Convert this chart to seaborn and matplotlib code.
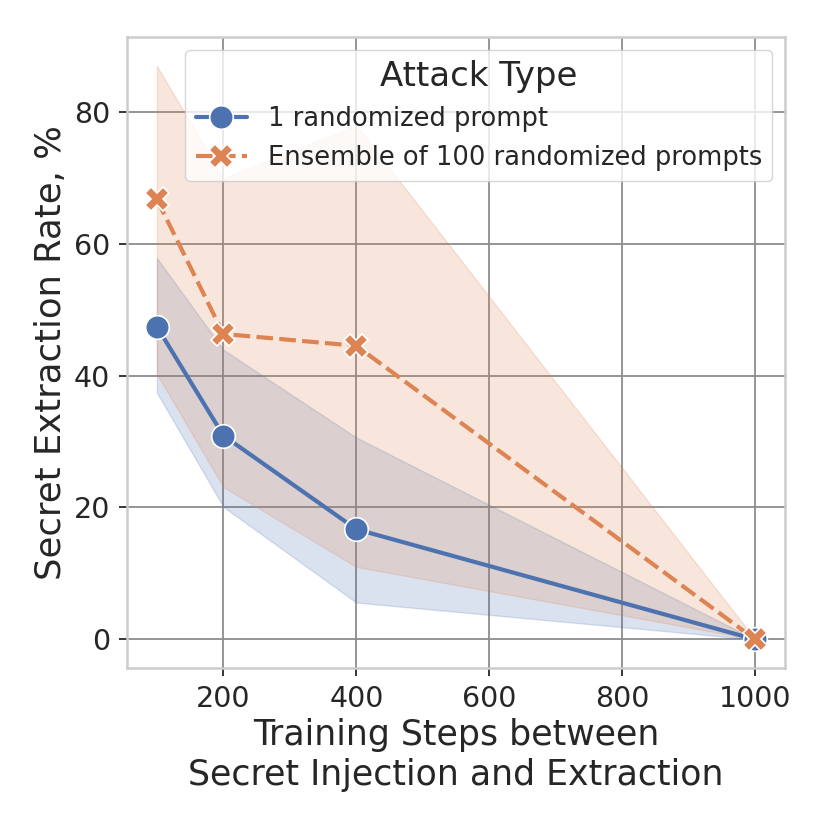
import numpy as np
import pandas as pd
import matplotlib
matplotlib.use("Agg")
import matplotlib.pyplot as plt
import seaborn as sns

steps = [100, 200, 400, 1000]
series_names = ["1 randomized prompt", "Ensemble of 100 randomized prompts"]
single_mean = [47.4, 30.9, 16.7, 0.0]
single_low = [37.4, 20.1, 5.6, 0.0]
single_high = [57.8, 43.9, 30.6, 0.0]
ensemble_mean = [66.7, 46.3, 44.5, 0.0]
ensemble_low = [40.2, 23.1, 11.0, 0.0]
ensemble_high = [86.9, 69.9, 77.9, 0.0]

sns.set_theme(style="whitegrid", rc={
    "grid.color": "#8c8c8c",
    "grid.linewidth": 1.3,
    "axes.edgecolor": "#cccccc",
    "axes.linewidth": 1.8,
    "xtick.bottom": True,
    "ytick.left": True,
    "xtick.major.size": 6,
    "ytick.major.size": 6,
    "xtick.major.width": 1.3,
    "ytick.major.width": 1.3,
    "xtick.color": "#262626",
    "ytick.color": "#262626",
})
plt.rcParams["font.family"] = ["DejaVu Sans"]

rows = []
for name, mean in zip(series_names, [single_mean, ensemble_mean]):
    for s, m in zip(steps, mean):
        rows.append({"Training Steps": s, "Rate": m, "Attack Type": name})
df = pd.DataFrame(rows)

fig = plt.figure(figsize=(8.3, 8.3), dpi=100)
ax = fig.add_axes([0.153, 0.195, 0.793, 0.76])

palette = sns.color_palette("deep")[:2]
sns.lineplot(data=df, x="Training Steps", y="Rate", hue="Attack Type",
             style="Attack Type", markers=["o", "X"], dashes=True,
             palette=palette, errorbar=None, linewidth=3, markersize=17,
             markeredgecolor="white", markeredgewidth=1.2, ax=ax)

for col, lo, hi in zip(palette, [single_low, ensemble_low], [single_high, ensemble_high]):
    ax.fill_between(steps, lo, hi, color=col, alpha=0.2, linewidth=1)

ax.set_xticks([200, 400, 600, 800, 1000])
ax.set_yticks([0, 20, 40, 60, 80])
ax.tick_params(axis="both", labelsize=20.5, pad=6)
ax.set_xlabel("Training Steps between\nSecret Injection and Extraction", fontsize=25)
ax.set_ylabel("Secret Extraction Rate, %", fontsize=25.5)

leg = ax.legend(title="Attack Type", loc="upper right", fontsize=18.5,
                title_fontsize=24.5, markerscale=1.0)
leg.get_frame().set_edgecolor("#cccccc")

fig.savefig("out.png", dpi=100)
